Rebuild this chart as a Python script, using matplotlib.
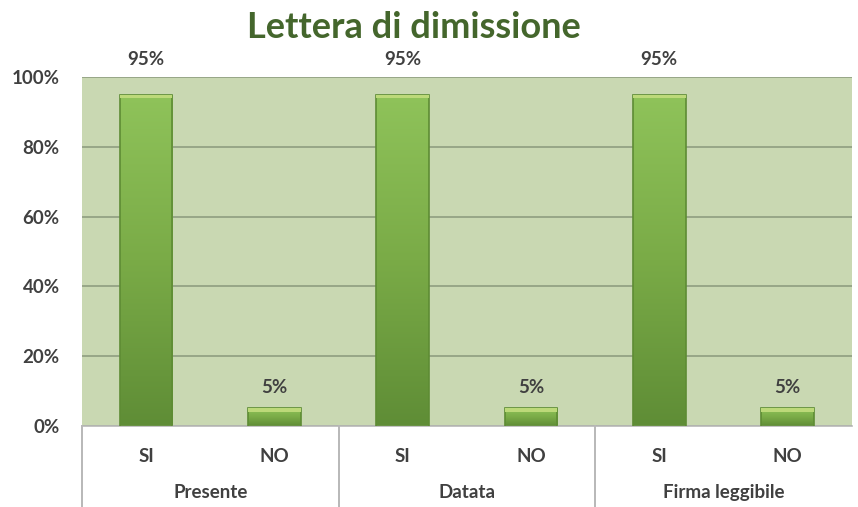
import numpy as np
import matplotlib.pyplot as plt
from matplotlib.patches import Rectangle
from matplotlib.colors import LinearSegmentedColormap

plt.rcParams['font.family'] = ['Lato', 'DejaVu Sans']

title = 'Lettera di dimissione'
groups = ['Presente', 'Datata', 'Firma leggibile']
answers = ['SI', 'NO']
values = [95, 5, 95, 5, 95, 5]   # percent, SI/NO per group
yticks = [0, 20, 40, 60, 80, 100]

text_col = '#404040'
bg_col = '#c9d8b2'
fs = 13.5

fig = plt.figure(figsize=(8.58, 5.07), dpi=100)
ax = fig.add_axes([0.0956, 0.160, 0.897, 0.688])
ax.set_facecolor(bg_col)

x = np.arange(len(values))
bars = ax.bar(x, values, width=0.41, facecolor='none', edgecolor='#5e8c34',
              linewidth=1.2, zorder=3)

# vertical gradient inside each bar, lighter at the top
grad = np.linspace(0, 1, 256).reshape(-1, 1)
grad = np.hstack([grad] * 3)
cmap = LinearSegmentedColormap.from_list('bar', ['#5f8d36', '#7aab47', '#8fc35a'])
for b in bars:
    x0, y0 = b.get_x(), b.get_y()
    w, h = b.get_width(), b.get_height()
    im = ax.imshow(grad, extent=[x0, x0 + w, y0, y0 + h], origin='lower',
                   cmap=cmap, aspect='auto', zorder=2)
    im.set_clip_path(b)
    # light cap on top of the bar
    ax.add_patch(Rectangle((x0, y0 + h - 1.0), w, 1.0, facecolor='#bcd979',
                           edgecolor='none', zorder=4))

ax.set_xlim(-0.5, len(values) - 0.5)
ax.set_ylim(0, 100)
ax.set_yticks(yticks)
ax.set_yticklabels([f'{t}%' for t in yticks])
ax.yaxis.grid(True, color='#8f9e80', linewidth=1.2)
ax.set_axisbelow(True)
ax.tick_params(axis='both', length=0, colors=text_col, labelsize=fs)
ax.tick_params(axis='y', pad=16)
for lbl in ax.get_yticklabels():
    lbl.set_fontweight('bold')

ax.set_xticks(x)
ax.set_xticklabels(answers * len(groups), fontweight='bold')
ax.tick_params(axis='x', pad=16)

for s in ['top', 'right', 'left']:
    ax.spines[s].set_visible(False)
ax.spines['bottom'].set_color('#b8b8b8')
ax.spines['bottom'].set_linewidth(1.2)

# group separators and group names under the axis
for i, g in enumerate(groups):
    left = i * 2 - 0.5
    ax.plot([left, left], [0, -0.235], transform=ax.get_xaxis_transform(),
            color='#b8b8b8', lw=1.4, clip_on=False)
    ax.text(i * 2 + 0.5, -0.192, g, transform=ax.get_xaxis_transform(),
            ha='center', va='center', fontsize=fs, fontweight='bold',
            color=text_col)

for xi, v in zip(x, values):
    off = 25 if v > 90 else 15
    ax.annotate(f'{v}%', (xi, v), xytext=(0, off), textcoords='offset points',
                ha='center', va='center', fontsize=fs, fontweight='bold',
                color=text_col)

fig.text(0.482, 0.945, title, ha='center', va='center', fontsize=26,
         fontweight='bold', color='#44662c')

fig.savefig('out.png', dpi=100)
